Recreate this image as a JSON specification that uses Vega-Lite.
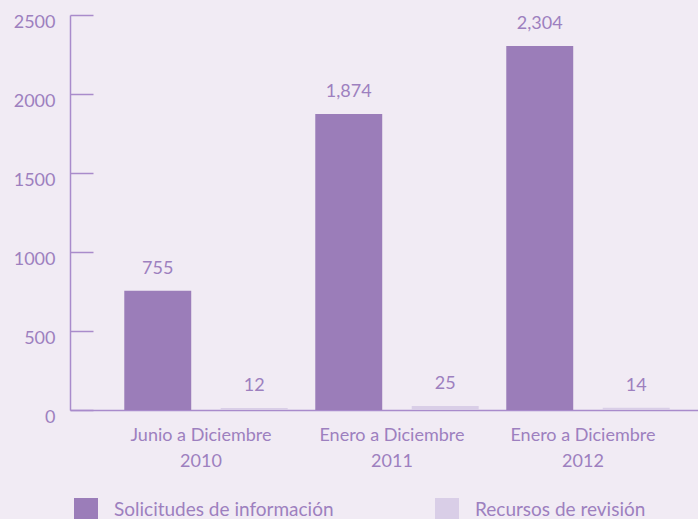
{
  "$schema": "https://vega.github.io/schema/vega-lite/v6.json",
  "width": 628,
  "height": 395,
  "autosize": {"type": "none"},
  "padding": {"left": 70, "top": 15, "right": 0, "bottom": 109},
  "background": "#F1EBF4",
  "config": {"view": {"stroke": null}, "font": "Lato"},
  "data": {
    "values": [
      {"periodo": "Junio a Diciembre|2010", "serie": "Solicitudes de información", "valor": 755},
      {"periodo": "Junio a Diciembre|2010", "serie": "Recursos de revisión", "valor": 12},
      {"periodo": "Enero a Diciembre|2011", "serie": "Solicitudes de información", "valor": 1874},
      {"periodo": "Enero a Diciembre|2011", "serie": "Recursos de revisión", "valor": 25},
      {"periodo": "Enero a Diciembre|2012", "serie": "Solicitudes de información", "valor": 2304},
      {"periodo": "Enero a Diciembre|2012", "serie": "Recursos de revisión", "valor": 14}
    ]
  },
  "encoding": {
    "x": {
      "field": "periodo",
      "type": "nominal",
      "sort": null,
      "scale": {"paddingInner": 0, "paddingOuter": 0.144, "align": 0.736},
      "axis": {
        "title": null,
        "ticks": false,
        "domainColor": "#A98BCB",
        "domainWidth": 1.5,
        "labelAngle": 0,
        "labelColor": "#9D80BF",
        "labelFontSize": 18,
        "labelPadding": 16,
        "labelLineHeight": 26,
        "labelOffset": -5,
        "labelExpr": "split(datum.label, '|')"
      }
    },
    "xOffset": {
      "field": "serie",
      "type": "nominal",
      "sort": ["Solicitudes de información", "Recursos de revisión"],
      "scale": {"paddingInner": 0.306, "paddingOuter": 0.143}
    },
    "y": {
      "field": "valor",
      "type": "quantitative",
      "scale": {"domain": [0, 2500], "nice": false},
      "axis": {
        "title": null,
        "grid": false,
        "format": "d",
        "values": [0, 500, 1000, 1500, 2000, 2500],
        "domainColor": "#A98BCB",
        "domainWidth": 1.5,
        "tickColor": "#A98BCB",
        "tickWidth": 1.5,
        "tickSize": -23,
        "labelColor": "#9D80BF",
        "labelFontSize": 18,
        "labelPadding": 38,
        "labelOffset": 7
      }
    }
  },
  "layer": [
    {
      "mark": {"type": "bar"},
      "encoding": {
        "color": {
          "field": "serie",
          "type": "nominal",
          "sort": ["Solicitudes de información", "Recursos de revisión"],
          "scale": {
            "domain": ["Solicitudes de información", "Recursos de revisión"],
            "range": ["#9B7DB9", "#D9CEE7"]
          },
          "legend": {
            "title": null,
            "orient": "none",
            "legendX": 4,
            "legendY": 483,
            "direction": "horizontal",
            "symbolType": "square",
            "symbolSize": 576,
            "symbolStrokeWidth": 0,
            "labelFontSize": 19,
            "labelLimit": 500,
            "labelColor": "#9D80BF",
            "labelOffset": 16,
            "columnPadding": 101
          }
        }
      }
    },
    {
      "mark": {"type": "text", "dy": -17, "baseline": "alphabetic", "fontSize": 18, "color": "#9D80BF"},
      "encoding": {"text": {"field": "valor", "type": "quantitative", "format": ","}}
    }
  ]
}
